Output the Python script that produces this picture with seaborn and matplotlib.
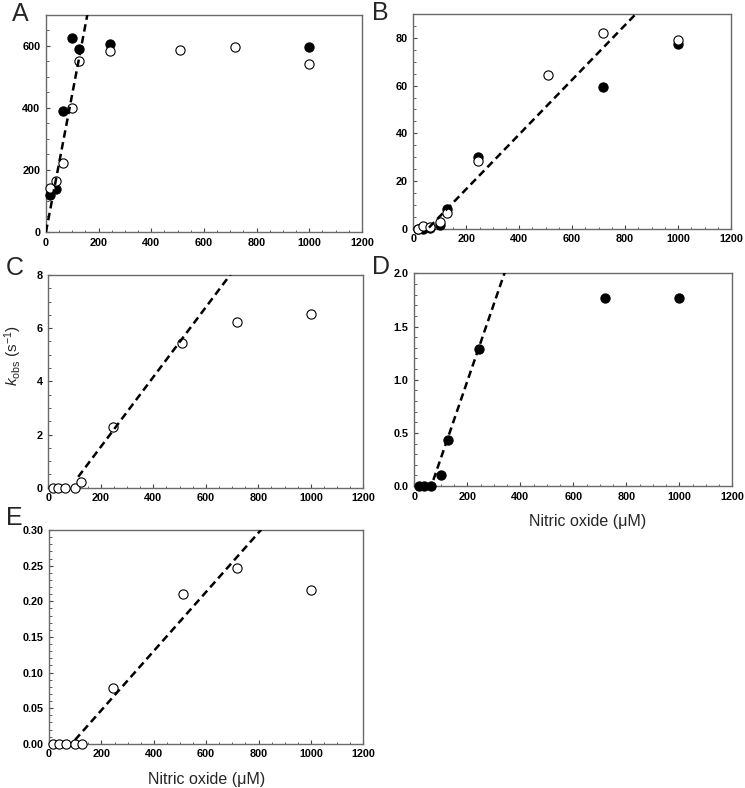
import matplotlib
matplotlib.use("Agg")
import matplotlib.pyplot as plt
import seaborn as sns
import numpy as np
import pandas as pd
from matplotlib.ticker import MultipleLocator, FormatStrFormatter

# nitric oxide concentrations (uM)
conc = [17, 37, 63, 100, 126, 245, 510, 718, 1000]

# panel A
a_filled = [120, 140, 390, 625, 590, 605, np.nan, np.nan, 598]
a_open = [143, 163, 222, 400, 550, 583, 586, 597, 543]
# panel B
b_filled = [0, 0, 0.3, 1.5, 8.1, 30, np.nan, 59.5, 77.3]
b_open = [0, 1.0, 0.5, 2.7, 6.7, 28.2, 64.4, 82, 79]
# panel C
c_open = [0, 0, 0, 0, 0.21, 2.3, 5.45, 6.23, 6.55]
# panel D
d_filled = [0, 0, 0, 0.1, 0.43, 1.29, np.nan, 1.77, 1.77]
# panel E
e_open = [0, 0, 0, 0, 0, 0.079, 0.21, 0.247, 0.216]

# linear fits: slope, intercept, x range
fit_slope = [4.46, 0.1146, 0.01313, 0.00725, 0.000415]
fit_icpt = [0, -6.3, -1.09, -0.465, -0.0357]
fit_xrange = [(0, 160), (59, 850), (114, 700), (72, 345), (99, 810)]

sns.set_style("ticks")
plt.rcParams['font.family'] = ['Liberation Sans', 'DejaVu Sans']
plt.rcParams['mathtext.fontset'] = 'custom'
plt.rcParams['mathtext.rm'] = 'Liberation Sans'
plt.rcParams['mathtext.it'] = 'Liberation Sans:italic'

fig = plt.figure(figsize=(7.45, 7.88), dpi=100)

# [left, bottom, width, height] in figure fractions
boxes = [
    [0.0617, 0.7056, 0.4242, 0.2754],
    [0.5548, 0.7098, 0.4264, 0.2724],
    [0.0648, 0.3811, 0.4229, 0.2699],
    [0.5561, 0.3832, 0.4268, 0.2699],
    [0.0658, 0.0560, 0.4219, 0.2714],
]
ylims = [700, 90, 8, 2.0, 0.30]
ymaj = [200, 20, 2, 0.5, 0.05]
ymin = [50, 5, 0.5, 0.1, 0.01]
yfmt = ['%d', '%d', '%d', '%.1f', '%.2f']
filled = [a_filled, b_filled, None, d_filled, None]
opened = [a_open, b_open, c_open, None, e_open]
letters = ['A', 'B', 'C', 'D', 'E']
letter_pos = [(0.016, 0.997), (0.500, 0.999), (0.008, 0.675), (0.500, 0.677), (0.008, 0.358)]

for i in range(5):
    ax = fig.add_axes(boxes[i])
    if filled[i] is not None:
        df = pd.DataFrame({'x': conc, 'y': filled[i]}).dropna()
        sns.scatterplot(data=df, x='x', y='y', ax=ax, color='black', edgecolor='black',
                        s=44, linewidth=0.8, clip_on=False, zorder=3)
    if opened[i] is not None:
        df = pd.DataFrame({'x': conc, 'y': opened[i]}).dropna()
        sns.scatterplot(data=df, x='x', y='y', ax=ax, color='white', edgecolor='black',
                        s=44, linewidth=0.8, clip_on=False, zorder=4)
    x0, x1 = fit_xrange[i]
    fit_df = pd.DataFrame({'x': [x0, x1]})
    fit_df['y'] = fit_slope[i] * fit_df['x'] + fit_icpt[i]
    sns.lineplot(data=fit_df, x='x', y='y', ax=ax, color='black', linewidth=1.8,
                 linestyle=(0, (3, 1.8)), zorder=5)

    ax.set_xlim(0, 1200)
    ax.set_ylim(0, ylims[i])
    ax.xaxis.set_major_locator(MultipleLocator(200))
    ax.xaxis.set_minor_locator(MultipleLocator(50))
    ax.yaxis.set_major_locator(MultipleLocator(ymaj[i]))
    ax.yaxis.set_minor_locator(MultipleLocator(ymin[i]))
    ax.yaxis.set_major_formatter(FormatStrFormatter(yfmt[i]))
    ax.tick_params(which='both', direction='in', top=False, right=False,
                   colors='#444444', labelcolor='black')
    ax.tick_params(which='major', length=3, width=0.8, labelsize=7.8, pad=4)
    ax.tick_params(which='minor', length=1.8, width=0.6)
    for lab in ax.get_xticklabels() + ax.get_yticklabels():
        lab.set_fontweight('bold')
    for sp in ax.spines.values():
        sp.set_visible(True)
        sp.set_color('#6a6a6a')
        sp.set_linewidth(1.0)
    ax.set_xlabel('')
    ax.set_ylabel('')

    if i == 2:
        ax.set_ylabel(r'$k_{\rm obs}$ (s$^{-1}$)', fontsize=11)
        ax.yaxis.set_label_coords(-0.078, 0.62)
    if i in (3, 4):
        ax.set_xlabel('Nitric oxide (\u03bcM)', fontsize=11.5, labelpad=9)
    if i == 3:
        ax.xaxis.set_label_coords(0.546, -0.13)

    fig.text(letter_pos[i][0], letter_pos[i][1], letters[i], fontsize=18,
             ha='left', va='top')

fig.savefig('out.png', dpi=100)
